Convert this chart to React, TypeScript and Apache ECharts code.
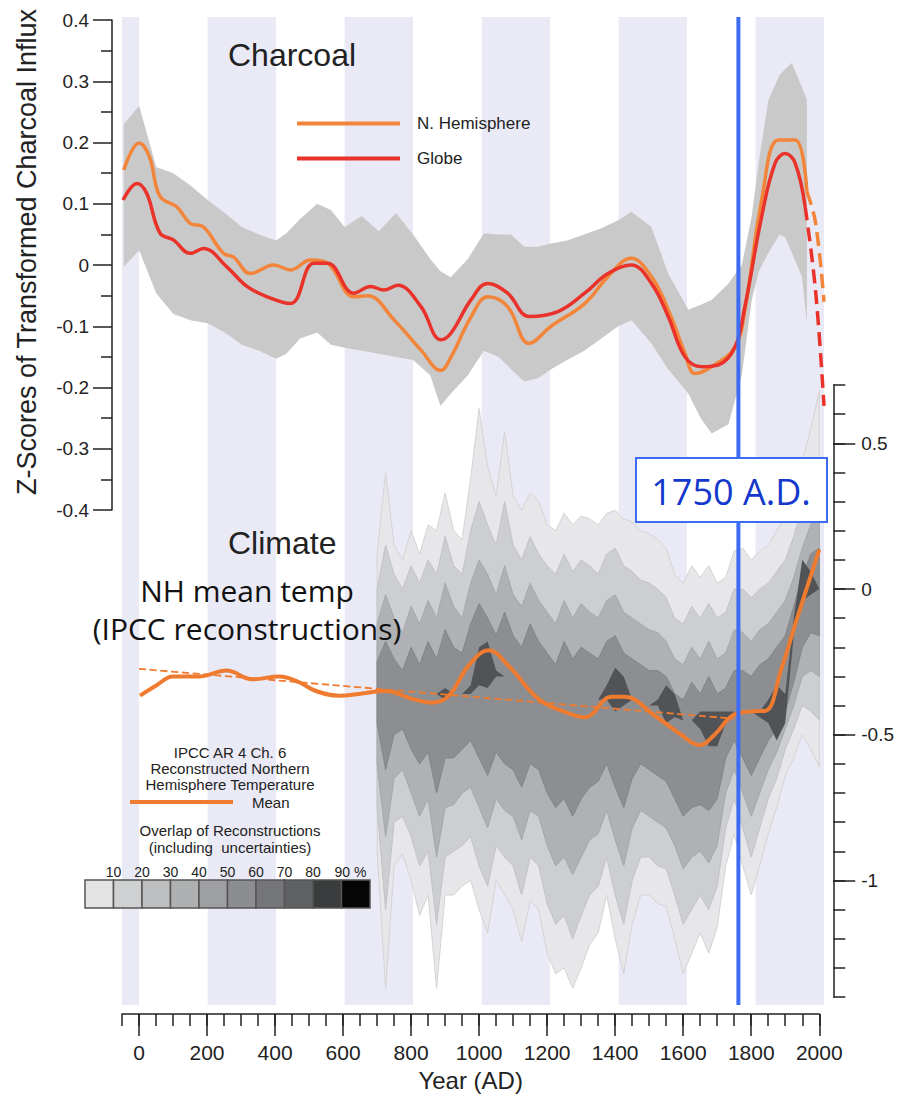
import React, { useEffect, useRef } from 'react';
import * as echarts from 'echarts';

// ---------- data ----------
const BAND_STARTS = [-50, 200, 600, 1000, 1400, 1800];
const BAND_ENDS = [0, 400, 800, 1200, 1600, 2000];
const REF_YEAR = 1750;

const CHAR_BAND_YEARS = [-45, 0, 50, 100, 150, 200, 250, 300, 350, 400, 430, 470, 520, 560, 600, 650, 700, 750, 800, 850, 880, 910, 960, 1007, 1050, 1086, 1125, 1165, 1203, 1250, 1300, 1350, 1399, 1438, 1496, 1545, 1604, 1640, 1672, 1721, 1760, 1789, 1810, 1838, 1870, 1887, 1906, 1936, 1950];
const CHAR_BAND_UPPER = [0.23, 0.26, 0.16, 0.15, 0.13, 0.106, 0.085, 0.062, 0.05, 0.04, 0.052, 0.075, 0.10, 0.09, 0.062, 0.08, 0.055, 0.085, 0.05, 0.01, -0.01, -0.02, 0.01, 0.052, 0.05, 0.05, 0.03, 0.03, 0.035, 0.04, 0.05, 0.06, 0.073, 0.087, 0.062, -0.014, -0.073, -0.065, -0.057, -0.03, 0.0, 0.08, 0.17, 0.27, 0.31, 0.32, 0.33, 0.29, 0.27];
const CHAR_BAND_LOWER = [-0.003, 0.024, -0.046, -0.08, -0.09, -0.095, -0.11, -0.13, -0.14, -0.153, -0.145, -0.12, -0.11, -0.13, -0.135, -0.14, -0.145, -0.15, -0.155, -0.18, -0.23, -0.21, -0.18, -0.14, -0.15, -0.17, -0.19, -0.185, -0.17, -0.155, -0.14, -0.12, -0.10, -0.09, -0.128, -0.17, -0.21, -0.25, -0.275, -0.26, -0.18, -0.057, -0.01, 0.02, 0.05, 0.045, 0.02, -0.02, -0.095];

const NH_YEARS = [-45, 0, 30, 61, 110, 149, 188, 246, 276, 325, 393, 442, 501, 550, 627, 667, 745, 823, 881, 911, 969, 1018, 1076, 1139, 1203, 1301, 1369, 1437, 1496, 1545, 1594, 1623, 1672, 1740, 1769, 1818, 1867, 1916, 1950];
const NH_VALUES = [0.155, 0.199, 0.177, 0.112, 0.095, 0.068, 0.062, 0.019, 0.013, -0.014, 0.0, -0.008, 0.008, 0.003, -0.052, -0.05, -0.09, -0.139, -0.172, -0.15, -0.085, -0.052, -0.068, -0.128, -0.10, -0.063, -0.019, 0.011, -0.019, -0.073, -0.144, -0.177, -0.166, -0.134, -0.073, 0.106, 0.204, 0.204, 0.12];
const NH_DASH_YEARS = [1950, 1975, 2000];
const NH_DASH_VALUES = [0.12, 0.07, -0.06];

const GLOBE_YEARS = [-47, -6, 22, 61, 100, 149, 188, 256, 315, 374, 442, 510, 550, 627, 676, 715, 755, 823, 881, 911, 969, 1018, 1076, 1139, 1223, 1301, 1369, 1437, 1496, 1545, 1594, 1643, 1692, 1740, 1769, 1818, 1857, 1887, 1916, 1945];
const GLOBE_VALUES = [0.106, 0.133, 0.117, 0.052, 0.041, 0.019, 0.027, -0.003, -0.035, -0.052, -0.063, 0.003, 0.003, -0.046, -0.035, -0.041, -0.033, -0.068, -0.122, -0.111, -0.057, -0.03, -0.046, -0.084, -0.076, -0.046, -0.014, 0.0, -0.03, -0.084, -0.15, -0.166, -0.163, -0.134, -0.068, 0.079, 0.166, 0.182, 0.166, 0.095];
const GLOBE_DASH_YEARS = [1945, 1975, 2000];
const GLOBE_DASH_VALUES = [0.095, -0.04, -0.23];

const MEAN_YEARS = [3, 52, 100, 179, 257, 334, 413, 471, 520, 589, 647, 725, 803, 862, 911, 969, 1028, 1086, 1174, 1252, 1311, 1389, 1428, 1516, 1594, 1648, 1692, 1745, 1800, 1842, 1887, 1935, 2000];
const MEAN_VALUES = [-0.366, -0.33, -0.30, -0.30, -0.28, -0.31, -0.30, -0.32, -0.35, -0.366, -0.36, -0.35, -0.377, -0.39, -0.366, -0.263, -0.21, -0.263, -0.377, -0.422, -0.44, -0.37, -0.37, -0.434, -0.50, -0.536, -0.50, -0.434, -0.42, -0.418, -0.28, -0.10, 0.135];
const TREND_YEARS = [0, 1750];
const TREND_VALUES = [-0.274, -0.445];

const CLIM_YEARS = [700, 725, 750, 775, 800, 825, 850, 875, 900, 925, 950, 975, 1000, 1025, 1050, 1075, 1100, 1125, 1150, 1175, 1200, 1225, 1250, 1275, 1300, 1325, 1350, 1375, 1400, 1425, 1450, 1475, 1500, 1525, 1550, 1575, 1600, 1625, 1650, 1675, 1700, 1725, 1750, 1775, 1800, 1825, 1850, 1875, 1900, 1925, 1950, 1975, 2000];
const OVERLAP10_UPPER = [0.12, 0.40, 0.15, 0.10, 0.20, 0.12, 0.22, 0.20, 0.33, 0.20, 0.17, 0.38, 0.62, 0.42, 0.32, 0.54, 0.32, 0.27, 0.33, 0.30, 0.22, 0.20, 0.26, 0.22, 0.25, 0.24, 0.22, 0.26, 0.27, 0.24, 0.23, 0.20, 0.19, 0.17, 0.14, 0.05, 0.02, 0.08, 0.04, 0.08, 0.02, 0.04, 0.13, 0.14, 0.10, 0.13, 0.15, 0.20, 0.25, 0.35, 0.44, 0.55, 0.68];
const OVERLAP10_LOWER = [-0.90, -1.37, -0.95, -0.91, -1.00, -1.12, -1.05, -1.37, -1.05, -1.05, -1.02, -1.00, -1.10, -1.18, -1.00, -1.05, -1.10, -1.21, -1.07, -1.10, -1.25, -1.32, -1.30, -1.37, -1.30, -1.22, -1.18, -1.05, -1.20, -1.32, -1.15, -1.05, -1.05, -1.08, -1.09, -1.20, -1.32, -1.25, -1.18, -1.25, -1.16, -0.95, -0.84, -0.95, -1.05, -0.95, -0.84, -0.75, -0.64, -0.58, -0.50, -0.55, -0.61];
const OVERLAP30_UPPER = [0.0, 0.15, 0.05, 0.0, 0.08, 0.02, 0.10, 0.05, 0.18, 0.08, 0.05, 0.20, 0.30, 0.22, 0.15, 0.30, 0.15, 0.10, 0.18, 0.12, 0.08, 0.05, 0.12, 0.06, 0.10, 0.08, 0.05, 0.12, 0.14, 0.08, 0.06, 0.03, 0.02, 0.0, -0.03, -0.10, -0.12, -0.06, -0.10, -0.05, -0.10, -0.08, 0.0, 0.0, -0.03, 0.0, 0.02, 0.06, 0.10, 0.18, 0.28, 0.38, 0.45];
const OVERLAP30_LOWER = [-0.75, -1.10, -0.80, -0.78, -0.85, -0.95, -0.90, -1.15, -0.92, -0.90, -0.88, -0.85, -0.95, -1.02, -0.88, -0.92, -0.95, -1.05, -0.92, -0.95, -1.08, -1.15, -1.12, -1.20, -1.12, -1.05, -1.02, -0.92, -1.05, -1.15, -1.00, -0.92, -0.92, -0.95, -0.96, -1.05, -1.15, -1.10, -1.05, -1.10, -1.02, -0.82, -0.72, -0.82, -0.92, -0.82, -0.72, -0.65, -0.55, -0.48, -0.40, -0.42, -0.45];
const OVERLAP50_UPPER = [-0.12, -0.02, -0.10, -0.15, -0.06, -0.12, -0.04, -0.10, 0.02, -0.06, -0.10, 0.02, 0.10, 0.05, -0.02, 0.08, -0.02, -0.06, 0.02, -0.04, -0.08, -0.12, -0.04, -0.10, -0.05, -0.08, -0.10, -0.04, -0.02, -0.08, -0.10, -0.12, -0.14, -0.15, -0.18, -0.24, -0.26, -0.20, -0.24, -0.18, -0.24, -0.22, -0.14, -0.15, -0.18, -0.14, -0.12, -0.08, -0.04, 0.04, 0.14, 0.22, 0.25];
const OVERLAP50_LOWER = [-0.60, -0.85, -0.65, -0.62, -0.70, -0.78, -0.72, -0.92, -0.75, -0.74, -0.70, -0.68, -0.75, -0.82, -0.72, -0.76, -0.78, -0.86, -0.76, -0.78, -0.88, -0.95, -0.92, -0.98, -0.92, -0.86, -0.84, -0.76, -0.86, -0.95, -0.82, -0.76, -0.78, -0.80, -0.82, -0.88, -0.96, -0.92, -0.90, -0.94, -0.88, -0.70, -0.62, -0.70, -0.78, -0.70, -0.62, -0.56, -0.48, -0.40, -0.30, -0.28, -0.30];
const OVERLAP70_UPPER = [-0.25, -0.18, -0.24, -0.28, -0.20, -0.26, -0.18, -0.24, -0.14, -0.20, -0.22, -0.12, -0.05, -0.10, -0.16, -0.08, -0.16, -0.20, -0.12, -0.18, -0.22, -0.26, -0.18, -0.24, -0.20, -0.22, -0.24, -0.18, -0.16, -0.22, -0.24, -0.26, -0.28, -0.28, -0.30, -0.36, -0.38, -0.32, -0.36, -0.30, -0.36, -0.34, -0.28, -0.28, -0.30, -0.26, -0.24, -0.20, -0.16, -0.06, 0.04, 0.12, 0.14];
const OVERLAP70_LOWER = [-0.46, -0.62, -0.50, -0.48, -0.55, -0.60, -0.56, -0.70, -0.58, -0.58, -0.55, -0.52, -0.58, -0.64, -0.56, -0.60, -0.62, -0.68, -0.60, -0.62, -0.70, -0.75, -0.72, -0.78, -0.72, -0.68, -0.66, -0.60, -0.68, -0.75, -0.65, -0.60, -0.62, -0.64, -0.66, -0.72, -0.78, -0.75, -0.74, -0.76, -0.72, -0.58, -0.52, -0.58, -0.64, -0.58, -0.52, -0.48, -0.42, -0.32, -0.20, -0.15, -0.16];
const OVERLAP90_UPPER = [-0.36, -0.36, -0.36, -0.36, -0.36, -0.36, -0.36, -0.36, -0.34, -0.36, -0.36, -0.33, -0.20, -0.18, -0.28, -0.30, -0.36, -0.38, -0.38, -0.38, -0.40, -0.42, -0.42, -0.42, -0.42, -0.40, -0.38, -0.33, -0.27, -0.30, -0.38, -0.40, -0.40, -0.38, -0.33, -0.36, -0.45, -0.45, -0.42, -0.42, -0.42, -0.42, -0.42, -0.40, -0.42, -0.42, -0.38, -0.33, -0.36, -0.10, 0.10, 0.06, 0.0];
const OVERLAP90_LOWER = [-0.36, -0.36, -0.36, -0.36, -0.36, -0.36, -0.36, -0.36, -0.38, -0.36, -0.36, -0.36, -0.33, -0.34, -0.30, -0.30, -0.36, -0.38, -0.38, -0.38, -0.40, -0.42, -0.42, -0.42, -0.42, -0.40, -0.38, -0.38, -0.42, -0.40, -0.38, -0.40, -0.40, -0.40, -0.46, -0.44, -0.45, -0.45, -0.48, -0.54, -0.54, -0.46, -0.42, -0.40, -0.42, -0.44, -0.46, -0.52, -0.46, -0.16, -0.04, -0.02, 0.0];

const X_MAJOR_TICKS = [0, 200, 400, 600, 800, 1000, 1200, 1400, 1600, 1800, 2000];
const R_MAJOR_TICKS = [-1, -0.5, 0, 0.5];
const OVERLAP_LABELS = ['10', '20', '30', '40', '50', '60', '70', '80', '90 %'];
const OVERLAP_SWATCHES = ['#e3e3e3', '#cfd0d2', '#bdbfc1', '#aeb0b2', '#9d9fa2', '#8b8d90', '#747679', '#5e6063', '#3b3c3e', '#050505'];

// ---------- styles ----------
const FONT = "'Liberation Sans', Arial, sans-serif";
const NARROW = "'Liberation Sans Narrow', 'Liberation Sans', Arial, sans-serif";
const CAL = "'Open Sans', 'Noto Sans', sans-serif";
const LAVENDER = '#eaeaf6';
const NH_COLOR = '#f2853a';
const GLOBE_COLOR = '#e8322a';
const MEAN_COLOR = '#ee7b30';
const BLUE = '#3d6cf4';
const AXIS = '#222';
const LEVEL_FILLS = ['#e7e7e9', '#cdced1', '#afb1b4', '#8c8e91', '#525356'];
const LEVEL_EDGES = ['#d4d4d6', '#c2c3c6', '#a5a7aa', '#838588', 'none'];
const LEVELS = [
  [OVERLAP10_UPPER, OVERLAP10_LOWER],
  [OVERLAP30_UPPER, OVERLAP30_LOWER],
  [OVERLAP50_UPPER, OVERLAP50_LOWER],
  [OVERLAP70_UPPER, OVERLAP70_LOWER],
  [OVERLAP90_UPPER, OVERLAP90_LOWER],
];

const pairs = (xs: number[], ys: number[]) => xs.map((x, i) => [x, ys[i]]);

function bandPolygon(api: any, xs: number[], up: number[], lo: number[]) {
  const pts: number[][] = [];
  for (let i = 0; i < xs.length; i++) pts.push(api.coord([xs[i], up[i]]));
  for (let i = xs.length - 1; i >= 0; i--) pts.push(api.coord([xs[i], lo[i]]));
  return pts;
}

function txt(text: string, x: number, y: number, font: string, align = 'center', fill = '#222') {
  return {
    type: 'text', x, y, z: 50,
    style: { text, font, fill, align, verticalAlign: 'middle', textAlign: align, textVerticalAlign: 'middle' },
  };
}

const lineStyleAxis = { color: AXIS, width: 1.5 };

function buildOption() {
  const graphics: any[] = [];
  graphics.push(txt('Charcoal', 228, 55, `32px ${FONT}`, 'left'));
  graphics.push(txt('Climate', 228, 543, `32px ${FONT}`, 'left'));
  graphics.push(txt('NH mean temp', 247, 590, `30px ${CAL}`, 'center', '#111'));
  graphics.push(txt('(IPCC reconstructions)', 247, 628, `30px ${CAL}`, 'center', '#111'));
  graphics.push(txt('IPCC AR 4 Ch. 6', 230, 752, `15px ${FONT}`));
  graphics.push(txt('Reconstructed Northern', 230, 768, `15px ${FONT}`));
  graphics.push(txt('Hemisphere Temperature', 230, 784, `15px ${FONT}`));
  graphics.push({ type: 'line', z: 50, shape: { x1: 130, y1: 802, x2: 233, y2: 802 }, style: { stroke: MEAN_COLOR, lineWidth: 4 } });
  graphics.push(txt('Mean', 252, 802, `15px ${FONT}`, 'left'));
  graphics.push(txt('Overlap of Reconstructions', 230, 830, `15px ${FONT}`));
  graphics.push(txt('(including  uncertainties)', 230, 847, `15px ${FONT}`));
  const boxW = 28.5;
  OVERLAP_SWATCHES.forEach((c, i) => {
    graphics.push({ type: 'rect', z: 50, shape: { x: 85 + i * boxW, y: 880, width: boxW, height: 28 }, style: { fill: c, stroke: '#555', lineWidth: 1.5 } });
  });
  OVERLAP_LABELS.forEach((l, i) => {
    graphics.push(txt(l, 85 + (i + 1) * boxW + (l.length > 2 ? 9 : 0), 872, `14px ${FONT}`));
  });
  graphics.push({ type: 'rect', z: 60, shape: { x: 636, y: 458, width: 191, height: 64 }, style: { fill: '#fff', stroke: BLUE, lineWidth: 2 } });
  graphics.push({ ...txt('1750 A.D.', 731, 491, `36px ${CAL}`, 'center', '#1438cc'), z: 61 });

  const lineSeries = (name: string, xs: number[], ys: number[], color: string, grid: number, dashed = false, width = 3.5) => ({
    type: 'line', name, xAxisIndex: grid, yAxisIndex: grid, data: pairs(xs, ys), smooth: 0.4, symbol: 'none', z: 5,
    itemStyle: { color }, lineStyle: { color, width, type: dashed ? 'dashed' : 'solid' }, silent: true,
  });

  return {
    animation: false,
    backgroundColor: '#ffffff',
    grid: [
      { left: 122, width: 702, top: 20, height: 490 },
      { left: 122, width: 702, top: 385, height: 613 },
      { left: 122, width: 702, top: 17, height: 988 },
    ],
    legend: {
      data: ['N. Hemisphere', 'Globe'], orient: 'vertical', left: 292, top: 110,
      itemWidth: 103, itemHeight: 4, itemGap: 18, icon: 'rect',
      textStyle: { fontSize: 17, fontFamily: FONT, color: AXIS, padding: [0, 0, 0, 12] },
    },
    xAxis: [
      { gridIndex: 0, type: 'value', min: -50, max: 2000, show: false },
      {
        gridIndex: 1, type: 'value', min: -50, max: 2000, interval: 50, position: 'bottom', offset: 17,
        axisLine: { show: true, onZero: false, lineStyle: lineStyleAxis },
        axisTick: { show: true, length: 12, lineStyle: lineStyleAxis },
        axisLabel: { formatter: (v: number) => (v >= 0 && v % 200 === 0 ? String(v) : ''), fontSize: 21, fontFamily: NARROW, color: AXIS, margin: 28 },
        splitLine: { show: false },
        name: 'Year (AD)', nameLocation: 'middle', nameGap: 54,
        nameTextStyle: { fontSize: 24, fontFamily: NARROW, color: AXIS },
      },
      {
        gridIndex: 1, type: 'value', min: -50, max: 2000, position: 'bottom', offset: 17,
        axisLine: { show: false, onZero: false },
        axisTick: { show: true, length: 22, customValues: X_MAJOR_TICKS, lineStyle: lineStyleAxis },
        axisLabel: { show: false }, splitLine: { show: false },
      },
      { gridIndex: 2, type: 'value', min: -50, max: 2000, show: false },
    ],
    yAxis: [
      {
        gridIndex: 0, type: 'value', min: -0.4, max: 0.4, interval: 0.1, position: 'left', offset: 10,
        axisLine: { show: true, onZero: false, lineStyle: lineStyleAxis },
        axisTick: { show: true, length: 19, lineStyle: lineStyleAxis },
        minorTick: { show: true, splitNumber: 2, length: 11, lineStyle: lineStyleAxis },
        splitLine: { show: false }, minorSplitLine: { show: false },
        axisLabel: { formatter: (v: number) => (Math.abs(v) < 1e-9 ? '0' : v.toFixed(1)), fontSize: 19, fontFamily: FONT, color: AXIS, margin: 23 },
        name: 'Z-Scores of Transformed Charcoal Influx', nameLocation: 'middle', nameGap: 72,
        nameTextStyle: { fontSize: 27, fontFamily: FONT, color: AXIS, padding: [0, 0, 0, 26] },
      },
      {
        gridIndex: 1, type: 'value', min: -1.4, max: 0.7, interval: 0.1, position: 'right', offset: 14,
        axisLine: { show: true, onZero: false, lineStyle: lineStyleAxis },
        axisTick: { show: true, length: 12, lineStyle: lineStyleAxis },
        axisLabel: { show: false }, splitLine: { show: false },
      },
      {
        gridIndex: 1, type: 'value', min: -1.4, max: 0.7, position: 'right', offset: 14,
        axisLine: { show: false, onZero: false },
        axisTick: { show: true, length: 22, customValues: R_MAJOR_TICKS, lineStyle: lineStyleAxis },
        axisLabel: { show: true, customValues: R_MAJOR_TICKS, formatter: (v: number) => String(v), fontSize: 19, fontFamily: FONT, color: AXIS, margin: 28 },
        splitLine: { show: false },
      },
      { gridIndex: 2, type: 'value', min: 0, max: 1, show: false },
    ],
    series: [
      {
        type: 'custom', name: 'bands', xAxisIndex: 3, yAxisIndex: 3, silent: true, z: 0,
        data: BAND_STARTS.map((s, i) => [s, BAND_ENDS[i]]),
        renderItem: (params: any, api: any) => {
          const p0 = api.coord([api.value(0), 1]);
          const p1 = api.coord([api.value(1), 0]);
          return { type: 'rect', shape: { x: p0[0], y: p0[1], width: p1[0] - p0[0], height: p1[1] - p0[1] }, style: { fill: LAVENDER } };
        },
      },
      {
        type: 'custom', name: 'charcoal range', xAxisIndex: 0, yAxisIndex: 0, silent: true, z: 1,
        data: [[CHAR_BAND_YEARS[0], CHAR_BAND_UPPER[0]]],
        renderItem: (params: any, api: any) => ({
          type: 'polygon',
          shape: { points: bandPolygon(api, CHAR_BAND_YEARS, CHAR_BAND_UPPER, CHAR_BAND_LOWER) },
          style: { fill: '#c9c9c9' },
        }),
      },
      {
        type: 'custom', name: 'overlap', xAxisIndex: 1, yAxisIndex: 1, silent: true, z: 1,
        data: LEVELS.map((l, i) => [CLIM_YEARS[0], l[0][0], i]),
        renderItem: (params: any, api: any) => {
          const lv = LEVELS[params.dataIndex];
          return {
            type: 'polygon',
            shape: { points: bandPolygon(api, CLIM_YEARS, lv[0], lv[1]) },
            style: { fill: LEVEL_FILLS[params.dataIndex], stroke: LEVEL_EDGES[params.dataIndex], lineWidth: 1 },
          };
        },
      },
      lineSeries('N. Hemisphere', NH_YEARS, NH_VALUES, NH_COLOR, 0),
      lineSeries('Globe', GLOBE_YEARS, GLOBE_VALUES, GLOBE_COLOR, 0),
      lineSeries('NH recent', NH_DASH_YEARS, NH_DASH_VALUES, NH_COLOR, 0, true),
      lineSeries('Globe recent', GLOBE_DASH_YEARS, GLOBE_DASH_VALUES, GLOBE_COLOR, 0, true),
      lineSeries('NH trend', TREND_YEARS, TREND_VALUES, MEAN_COLOR, 1, true, 1.8),
      lineSeries('Mean', MEAN_YEARS, MEAN_VALUES, MEAN_COLOR, 1, false, 4),
      {
        type: 'line', name: '1750', xAxisIndex: 3, yAxisIndex: 3, data: [[REF_YEAR, 0], [REF_YEAR, 1]],
        symbol: 'none', z: 20, silent: true, lineStyle: { color: BLUE, width: 4 }, itemStyle: { color: BLUE },
      },
    ],
    graphic: graphics,
  };
}

export default function App() {
  const ref = useRef<HTMLDivElement>(null);
  useEffect(() => {
    document.body.style.margin = '0';
    const chart = echarts.init(ref.current!, null, { renderer: 'svg' });
    chart.setOption(buildOption() as any);
    return () => chart.dispose();
  }, []);
  return <div ref={ref} style={{ width: 897, height: 1097 }} />;
}
